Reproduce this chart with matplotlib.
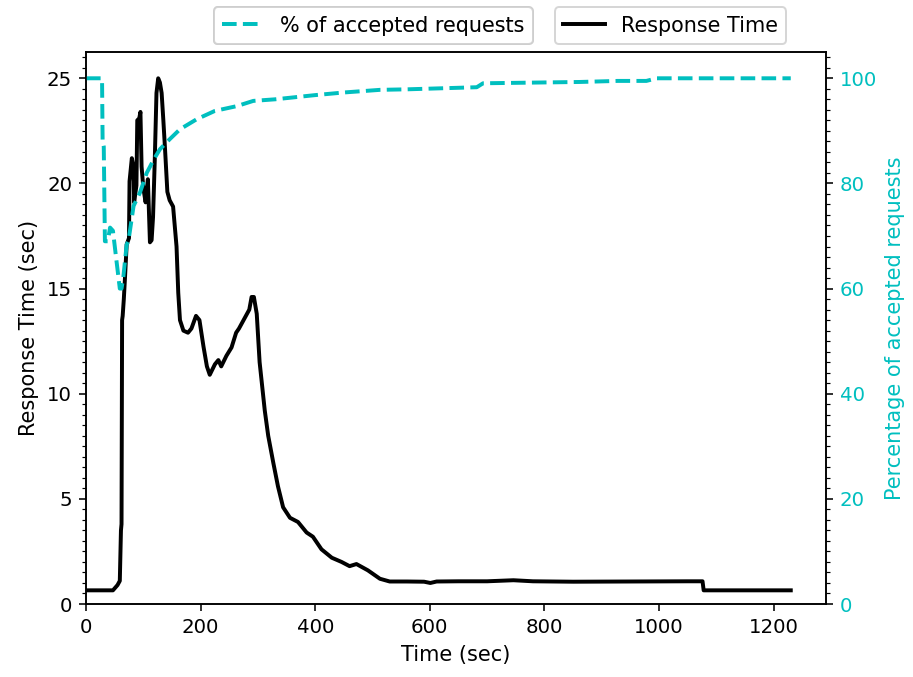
import matplotlib
matplotlib.use("Agg")
import matplotlib.pyplot as plt
from matplotlib.ticker import AutoMinorLocator, MultipleLocator

# Response time (sec) vs time (sec)
t_rt = [0, 47, 55, 59, 61, 62, 63, 64, 66, 68, 71, 75, 76, 80, 83, 84, 88, 89.5,
        93, 95, 97, 100, 104, 108, 111.6, 114.5, 117, 120, 123, 126, 129, 132, 135,
        138, 142, 146, 152, 158, 161, 164, 170, 178, 184, 192, 198, 205, 211, 216,
        225, 231, 236, 245, 254, 262, 267, 277, 285, 289, 293, 298, 303, 312, 318,
        327, 335, 344, 356, 370, 385, 396, 411, 429, 446, 460, 472, 492, 513, 530,
        560, 590, 601, 612, 650, 700, 746, 780, 850, 950, 1050, 1076, 1078, 1230]
v_rt = [0.65, 0.65, 0.9, 1.1, 3.5, 3.8, 13.5, 13.7, 14.5, 15.5, 17.1, 17.4, 20.1,
        21.2, 20.8, 19.1, 19.9, 23.0, 23.1, 23.4, 20.8, 19.8, 19.1, 20.2, 17.2, 17.3,
        18.4, 21.1, 24.3, 25.0, 24.8, 24.3, 23.0, 21.6, 19.6, 19.2, 18.9, 17.0, 14.8,
        13.5, 13.0, 12.9, 13.1, 13.7, 13.5, 12.25, 11.3, 10.9, 11.4, 11.6, 11.3, 11.8,
        12.2, 12.9, 13.1, 13.6, 14.0, 14.6, 14.6, 13.8, 11.5, 9.2, 8.0, 6.7, 5.6, 4.6,
        4.1, 3.9, 3.4, 3.2, 2.6, 2.2, 2.0, 1.8, 1.9, 1.6, 1.2, 1.07, 1.07, 1.06, 1.0,
        1.07, 1.08, 1.08, 1.13, 1.08, 1.06, 1.07, 1.08, 1.08, 0.65, 0.65]

# Percentage of accepted requests vs time (sec)
t_pct = [0, 28, 29, 31, 33, 38, 42, 47, 53.5, 59, 62, 65, 71, 74, 83, 94, 106, 118,
         129, 146, 164, 193, 225, 263, 292, 330, 400, 450, 513, 560, 652, 682, 693,
         862, 928, 978, 996, 1230]
p_pct = [100, 100, 88, 87, 69, 69, 71.6, 71, 65, 60, 60, 62, 68.4, 69, 75.7, 78.2,
         82, 84.5, 86.5, 88.4, 90.3, 92.2, 93.8, 94.7, 95.7, 96.0, 96.8, 97.3, 97.8,
         97.9, 98.2, 98.3, 99.05, 99.3, 99.5, 99.5, 100, 100]

x_ticks = [0, 200, 400, 600, 800, 1000, 1200]

DPI = 142
LFS = 10.6
plt.rcParams['font.family'] = ['DejaVu Sans']

fig = plt.figure(figsize=(913 / DPI, 677 / DPI), dpi=DPI)
ax = fig.add_axes([86/913, 1 - 604/677, 740/913, 552/677])
ax2 = ax.twinx()

cyan = '#00bfbf'
l1, = ax.plot(t_rt, v_rt, color='black', lw=2, label='Response Time')
l2, = ax2.plot(t_pct, p_pct, color=cyan, lw=2, ls='--', label='% of accepted requests')

ax.set_xlim(0, 1230 * 1.05)
ax.set_ylim(0, 25 * 1.05)
ax2.set_ylim(0, 100 * 1.05)
ax.set_xticks(x_ticks)
ax.yaxis.set_major_locator(MultipleLocator(5))
ax.yaxis.set_minor_locator(AutoMinorLocator(10))
ax2.yaxis.set_major_locator(MultipleLocator(20))
ax2.yaxis.set_minor_locator(AutoMinorLocator(10))

ax.set_xlabel('Time (sec)', fontsize=LFS)
ax.set_ylabel('Response Time (sec)', fontsize=LFS)
ax2.set_ylabel('Percentage of accepted requests', color=cyan, fontsize=LFS)
ax2.tick_params(axis='y', labelcolor=cyan)

leg1 = ax2.legend(handles=[l2], loc='lower center', bbox_to_anchor=(0.388, 1.0145),
                  borderaxespad=0, fontsize=10.5)
leg2 = ax.legend(handles=[l1], loc='lower center', bbox_to_anchor=(0.79, 1.0145),
                 borderaxespad=0, fontsize=10.5)
ax2.add_artist(leg1)

fig.savefig('out.png', dpi=DPI)
